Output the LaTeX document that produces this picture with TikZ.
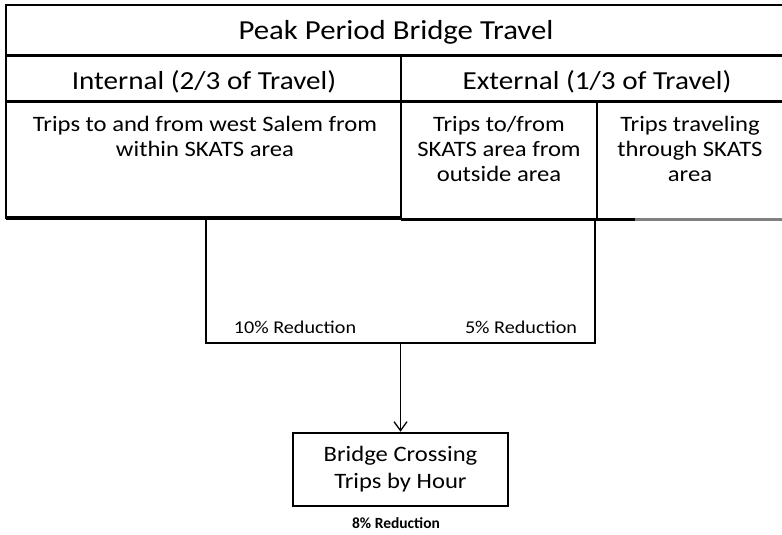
\documentclass[tikz,border=0pt]{standalone}
\usepackage{fontspec}
\setmainfont[FakeStretch=1.12]{Carlito}
\newfontfamily\plainfont{Carlito}
\usetikzlibrary{arrows.meta}
\tikzset{
  cell/.style={inner sep=0pt, align=center},
  thickline/.style={line width=3pt},
  boxline/.style={draw, line width=1.5pt, inner sep=0pt},
}
\begin{document}
\begin{tikzpicture}[x=1pt,y=-1pt]
\useasboundingbox (0,0) rectangle (782,535);
\begin{scope}
\clip (0,0) rectangle (782,535);
% table frame
\draw[line width=2pt] (6,219) -- (6,5) -- (790,5);
\draw[thickline] (6,56) -- (790,56);
\draw[thickline] (6,101) -- (790,101);
\draw[line width=1.6pt] (401,56) -- (401,219);
\draw[line width=1.6pt] (597,101) -- (597,219);
\draw[line width=4pt] (6,218) -- (401,218);
\draw[line width=3pt] (401,219) -- (635,219);
\draw[line width=3pt, gray] (635,219) -- (790,219);
\end{scope}
% texts in the table
\node[cell, anchor=base, font=\fontsize{27.5}{32}\selectfont] (title) at (396,40) {Peak Period Bridge Travel};
\node[cell, anchor=base, font=\fontsize{26}{30}\selectfont] (int) at (204,89) {Internal (2/3 of Travel)};
\node[cell, anchor=base, font=\fontsize{26}{30}\selectfont] (ext) at (597,89) {External (1/3 of Travel)};
\node[cell, anchor=base, font=\fontsize{22}{25}\selectfont] (c1) at (205,156) {Trips to and from west Salem from\\within SKATS area};
\node[cell, anchor=base, font=\fontsize{22}{25}\selectfont] (c2) at (499,181) {Trips to/from\\SKATS area from\\outside area};
\node[cell, anchor=base, font=\fontsize{22}{25}\selectfont] (c3) at (690,181) {Trips traveling\\through SKATS\\area};
% reduction box
\node[boxline, minimum width=389pt, minimum height=124pt] (red) at (400.5,281) {};
\node[cell, anchor=base, font=\fontsize{18}{20}\selectfont] (r10) at (295,333) {10\% Reduction};
\node[cell, anchor=base, font=\fontsize{18}{20}\selectfont] (r5) at (521,333) {5\% Reduction};
% bridge box
\node[draw, line width=2.5pt, minimum width=215pt, minimum height=73pt, align=center, inner sep=0pt, font=\fontsize{22}{27}\selectfont] (bridge) at (400.5,469.5) {Bridge Crossing\\Trips by Hour};
\node[cell, anchor=base, font=\plainfont\fontsize{15.5}{18}\selectfont\bfseries] (r8) at (396,528) {8\% Reduction};
\draw[line width=1.3pt, -{Straight Barb[length=9pt,width=13pt]}] (red.south) -- (bridge.north);
\end{tikzpicture}
\end{document}
